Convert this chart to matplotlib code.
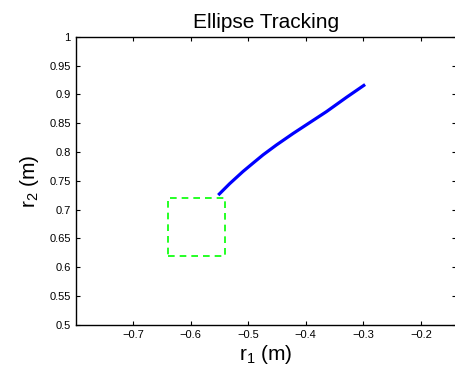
import matplotlib
matplotlib.use("Agg")
import matplotlib.pyplot as plt

plt.rcParams['font.family'] = ['Liberation Sans', 'DejaVu Sans']
plt.rcParams['mathtext.fontset'] = 'custom'
plt.rcParams['mathtext.rm'] = 'Liberation Sans'
plt.rcParams['mathtext.it'] = 'Liberation Sans'

# tracked path (r1, r2)
r1 = [-0.552, -0.532, -0.509, -0.491, -0.474, -0.451, -0.422, -0.393, -0.364, -0.329, -0.297]
r2 = [0.725, 0.745, 0.766, 0.781, 0.795, 0.812, 0.832, 0.851, 0.870, 0.895, 0.917]

# target box corners
box_r1 = [-0.64, -0.54, -0.54, -0.64, -0.64]
box_r2 = [0.62, 0.62, 0.72, 0.72, 0.62]

xticks = [-0.7, -0.6, -0.5, -0.4, -0.3, -0.2]
yticks = [0.5, 0.55, 0.6, 0.65, 0.7, 0.75, 0.8, 0.85, 0.9, 0.95, 1.0]
ytick_labels = ['0.5', '0.55', '0.6', '0.65', '0.7', '0.75', '0.8', '0.85', '0.9', '0.95', '1']

fig = plt.figure(figsize=(4.56, 3.77), dpi=100)
ax = fig.add_axes([0.1673, 0.1387, 0.8327, 0.7639])

ax.plot(box_r1, box_r2, '--', color=(0, 1, 0), linewidth=1.2, dashes=(4, 3))
ax.plot(r1, r2, '-', color=(0, 0, 1), linewidth=2.3, solid_capstyle='butt',
        solid_joinstyle='round')

ax.set_xlim(-0.7984, -0.1392)
ax.set_ylim(0.5, 1.0)
ax.set_xticks(xticks)
ax.set_xticklabels(['\u2212%.1f' % abs(v) for v in xticks])
ax.set_yticks(yticks)
ax.set_yticklabels(ytick_labels)
ax.tick_params(direction='in', length=3, width=0.8, labelsize=8,
               top=True, right=True, pad=4)
for s in ax.spines.values():
    s.set_linewidth(1.0)

ax.set_title('Ellipse Tracking', fontsize=15, pad=6)
ax.set_xlabel('r$_1$ (m)', fontsize=15, labelpad=2)
ax.set_ylabel('r$_2$ (m)', fontsize=15, labelpad=6)

fig.savefig('out.png', dpi=100)
